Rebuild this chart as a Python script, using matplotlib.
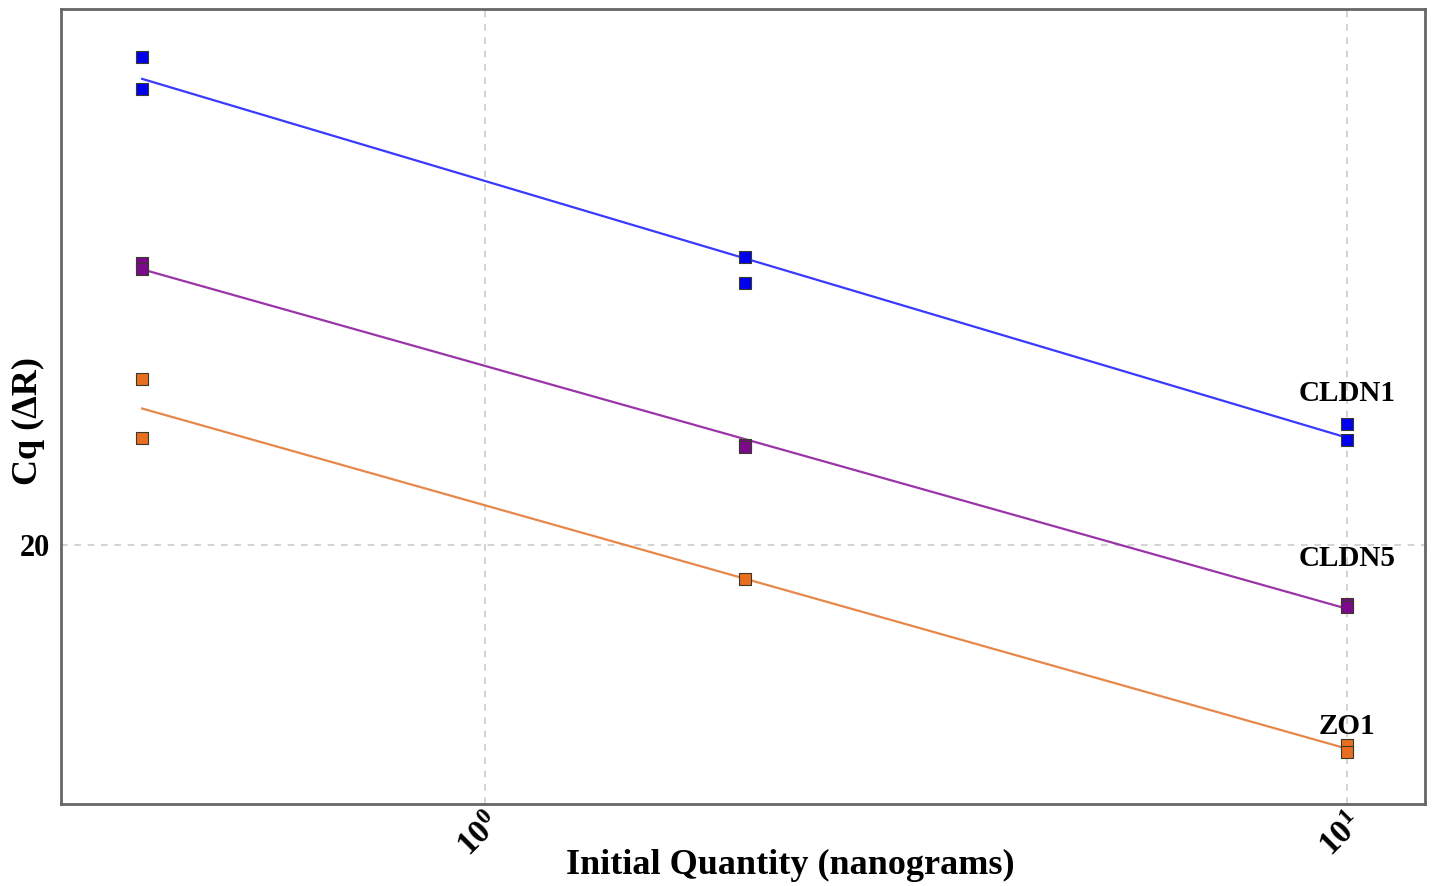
import numpy as np
import matplotlib
matplotlib.use("Agg")
import matplotlib.pyplot as plt

# -----------------------------
# DATA
# -----------------------------
genes = ["CLDN1", "CLDN5", "ZO1"]

qty_cldn1 = [0.4, 0.4, 2, 2, 10, 10]
cq_cldn1 = [26.55, 26.13, 23.87, 23.52, 21.63, 21.41]

qty_cldn5 = [0.4, 0.4, 2, 2, 10, 10]
cq_cldn5 = [23.79, 23.71, 21.34, 21.32, 19.21, 19.17]

qty_zo1 = [0.4, 0.4, 2, 10, 10]
cq_zo1 = [22.23, 21.44, 19.54, 17.31, 17.22]

x_ticks = [1, 10]
x_tick_labels = [r"$\mathbf{10^{0}}$", r"$\mathbf{10^{1}}$"]
y_ticks = [20]

# -----------------------------
# STYLE
# -----------------------------
plt.rcParams["font.family"] = ["Liberation Serif", "DejaVu Serif"]
plt.rcParams["font.weight"] = "bold"
plt.rcParams["mathtext.fontset"] = "custom"
plt.rcParams["mathtext.rm"] = "Liberation Serif"
plt.rcParams["mathtext.bf"] = "Liberation Serif:bold"

line_colors = ["#3a3aff", "#9a35a8", "#e8874a"]
marker_colors = ["#0000ee", "#7a0a8a", "#e86e20"]
label_offsets = [12, 23, 4]  # points above the top point at the last dilution

series = [(qty_cldn1, cq_cldn1), (qty_cldn5, cq_cldn5), (qty_zo1, cq_zo1)]

fig = plt.figure(figsize=(14.34, 8.86), dpi=100)
ax = fig.add_axes([0.0425, 0.0926, 0.9512, 0.8972])

for (gene, (q, cq), lc, mc, off) in zip(genes, series, line_colors, marker_colors, label_offsets):
    q = np.array(q, dtype=float)
    cq = np.array(cq, dtype=float)
    slope, icpt = np.polyfit(np.log10(q), cq, 1)
    xs = np.array([q.min(), q.max()])
    ax.plot(xs, slope * np.log10(xs) + icpt, color=lc, lw=1.6, zorder=2)
    ax.scatter(q, cq, marker="s", s=75, color=mc, edgecolors="#3a3a2a",
               linewidths=0.8, zorder=3)
    top = cq[q == q.max()].max()
    ax.annotate(gene, (q.max(), top), xytext=(0, off), textcoords="offset points",
                ha="center", va="bottom", fontsize=21, fontweight="bold")

ax.set_xscale("log")
ax.set_xlim(0.322, 12.32)
ax.set_ylim(16.52, 27.2)
ax.set_xticks(x_ticks)
ax.set_xticklabels(x_tick_labels, rotation=45, ha="right", va="top",
                   rotation_mode="anchor", fontsize=24)
ax.xaxis.set_minor_locator(matplotlib.ticker.NullLocator())
ax.set_yticks(y_ticks)
ax.set_yticklabels([str(v) for v in y_ticks], fontsize=22, fontweight="bold")
ax.tick_params(axis="y", length=0, pad=8)
ax.tick_params(axis="x", length=0, pad=3)

ax.grid(True, which="major", ls=(0, (4, 4)), color="#cccccc", lw=1.2)
ax.set_axisbelow(True)

for sp in ax.spines.values():
    sp.set_color("#666666")
    sp.set_linewidth(2)

ax.set_xlabel("Initial Quantity (nanograms)", fontsize=26, fontweight="bold")
ax.xaxis.set_label_coords(0.535, -0.078)
ax.xaxis.label.set_va("center")
ax.set_ylabel("Cq (ΔR)", fontsize=26, fontweight="bold")
ax.yaxis.set_label_coords(-0.024, 0.482)
ax.yaxis.label.set_va("center")

fig.savefig("out.png", dpi=100)
